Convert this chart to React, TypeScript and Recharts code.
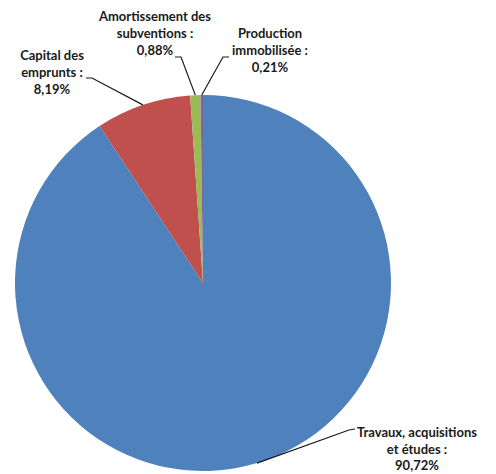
import React from 'react';
import { PieChart, Pie, Cell } from 'recharts';

const categories = [
  'Travaux, acquisitions et études',
  'Capital des emprunts',
  'Amortissement des subventions',
  'Production immobilisée',
];
const shares = [90.72, 8.19, 0.88, 0.21];
const labelTexts = [
  ['Travaux, acquisitions', 'et études :', '90,72%'],
  ['Capital des', 'emprunts :', '8,19%'],
  ['Amortissement des', 'subventions :', '0,88%'],
  ['Production', 'immobilisée :', '0,21%'],
];
const colors = ['#4F81BD', '#C0504D', '#9BBB59', '#8064A2'];

// label placement (text centre x, first baseline y, line height, leader elbow, leader end)
const labelLayout = [
  { x: 417, y: 437, lh: 16.5, elbow: [349, 430], end: [355, 429] },
  { x: 52, y: 59.5, lh: 17, elbow: [92, 78], end: [86, 78] },
  { x: 155, y: 21, lh: 17, elbow: [181, 57], end: [175, 57] },
  { x: 270, y: 38, lh: 17, elbow: [223, 57], end: [229, 57] },
];

const data = categories.map((name, i) => ({ name, value: shares[i] }));

const RAD = Math.PI / 180;

const renderLabel = (props: any) => {
  const { cx, cy, midAngle, outerRadius, index } = props;
  const lay = labelLayout[index];
  const px = cx + outerRadius * Math.cos(-midAngle * RAD);
  const py = cy + outerRadius * Math.sin(-midAngle * RAD);
  const lines = labelTexts[index];
  return (
    <g key={`lbl-${index}`}>
      <polyline
        points={`${px},${py} ${lay.elbow[0]},${lay.elbow[1]} ${lay.end[0]},${lay.end[1]}`}
        fill="none"
        stroke="#1a1a1a"
        strokeWidth={1.2}
      />
      <text
        x={lay.x}
        y={lay.y}
        textAnchor="middle"
        fontFamily="Lato, 'Open Sans', sans-serif"
        fontWeight={700}
        fontSize={13}
        fill="#1a1a1a"
      >
        {lines.map((t, j) => (
          <tspan key={j} x={lay.x} y={lay.y + j * lay.lh}>
            {t}
          </tspan>
        ))}
      </text>
    </g>
  );
};

export default function App() {
  return (
    <div style={{ position: 'absolute', left: 0, top: 0, width: 496, height: 474 }}>
      <PieChart width={496} height={474} margin={{ top: 0, right: 0, bottom: 0, left: 0 }}>
        <Pie
          data={data}
          dataKey="value"
          nameKey="name"
          cx={203}
          cy={283}
          outerRadius={188}
          startAngle={90}
          endAngle={-270}
          stroke="none"
          isAnimationActive={false}
          label={renderLabel}
          labelLine={false}
        >
          {data.map((d, i) => (
            <Cell key={d.name} fill={colors[i]} />
          ))}
        </Pie>
      </PieChart>
    </div>
  );
}
